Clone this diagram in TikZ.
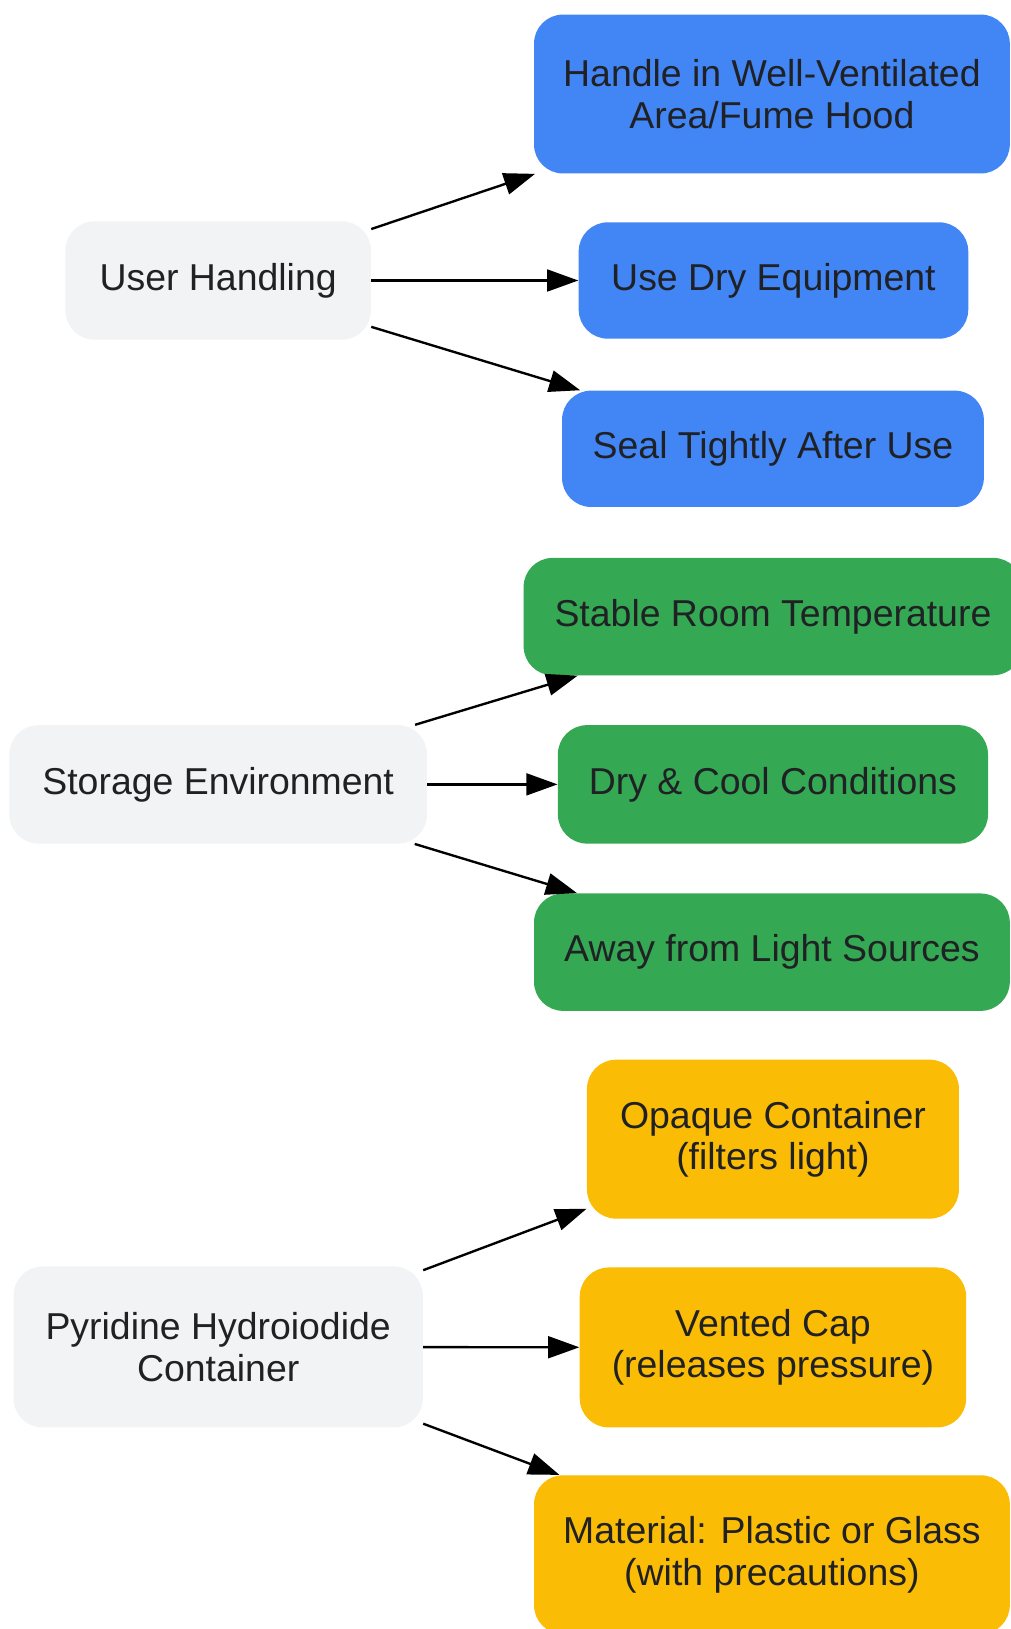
\documentclass[tikz,border=0pt]{standalone}
\usepackage{fontspec}
\setmainfont{Liberation Sans}
\usetikzlibrary{arrows.meta}
\definecolor{gblue}{HTML}{4285F4}
\definecolor{ggreen}{HTML}{34A853}
\definecolor{gyellow}{HTML}{FBBC05}
\definecolor{ggrey}{HTML}{F1F3F4}
\definecolor{gtext}{HTML}{202124}
\begin{document}
\begin{tikzpicture}[
		box/.style={rounded corners=0.56cm, inner sep=0pt, align=center, text=gtext, font=\fontsize{20.5}{22.8}\selectfont},
		arr/.style={-{Triangle[length=0.6cm,width=0.42cm]}, line width=1.3pt, black}]
			\useasboundingbox (0,0) rectangle (19.46,-31.36);
			\node[box, fill=ggrey, minimum width=5.88cm, minimum height=2.28cm] (user) at (4.2,-5.4) {User Handling};
			\node[box, fill=ggrey, minimum width=8.04cm, minimum height=2.28cm] (store) at (4.2,-15.1) {Storage Environment};
			\node[box, fill=ggrey, minimum width=7.88cm, minimum height=3.1cm] (cont) at (4.2,-25.93) {Pyridine Hydroiodide\\Container};
			\node[box, fill=gblue, minimum width=9.16cm, minimum height=3.06cm] (hood) at (14.86,-1.81) {Handle in Well-Ventilated\\Area/Fume Hood};
			\node[box, fill=gblue, minimum width=7.5cm, minimum height=2.24cm] (dry) at (14.89,-5.4) {Use Dry Equipment};
			\node[box, fill=gblue, minimum width=8.12cm, minimum height=2.24cm] (seal) at (14.88,-8.64) {Seal Tightly After Use};
			\node[box, fill=ggreen, minimum width=9.6cm, minimum height=2.26cm] (temp) at (14.88,-11.87) {Stable Room Temperature};
			\node[box, fill=ggreen, minimum width=8.28cm, minimum height=2.28cm] (cool) at (14.88,-15.1) {Dry \& Cool Conditions};
			\node[box, fill=ggreen, minimum width=9.16cm, minimum height=2.26cm] (light) at (14.86,-18.33) {Away from Light Sources};
			\node[box, fill=gyellow, minimum width=7.16cm, minimum height=3.06cm] (opaque) at (14.88,-21.93) {Opaque Container\\(filters light)};
			\node[box, fill=gyellow, minimum width=7.44cm, minimum height=3.08cm] (cap) at (14.88,-25.94) {Vented Cap\\(releases pressure)};
			\node[box, fill=gyellow, minimum width=9.16cm, minimum height=3.06cm] (mat) at (14.86,-29.93) {Material: Plastic or Glass\\(with precautions)};
			% user handling
			\draw[arr] (user) -- (hood);
			\draw[arr] (user) -- (dry);
			\draw[arr] (user) -- (seal);
			% storage
			\draw[arr] (store) -- (temp);
			\draw[arr] (store) -- (cool);
			\draw[arr] (store) -- (light);
			% container
			\draw[arr] (cont) -- (opaque);
			\draw[arr] (cont) -- (cap);
			\draw[arr] (cont) -- (mat);
		\end{tikzpicture}
\end{document}
